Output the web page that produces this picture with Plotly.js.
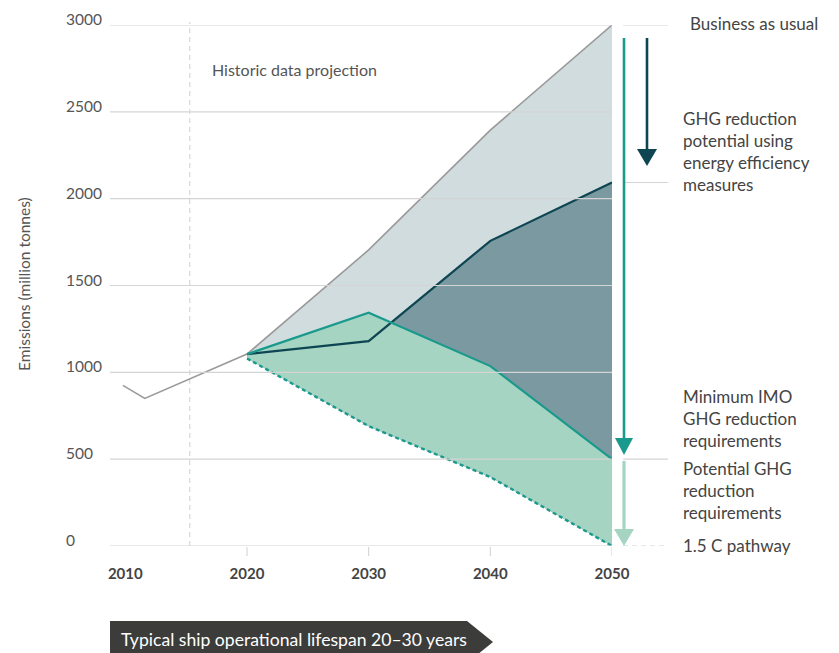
<!DOCTYPE html>
<html>
<head>
<meta charset="utf-8">
<script src="https://cdn.plot.ly/plotly-3.0.1.min.js"></script>
<style>html,body{margin:0;padding:0;background:#fff;}#chart{width:839px;height:653px;}</style>
</head>
<body>
<div id="chart"></div>
<script>
// ---- data ----
const histYears = [2009.8, 2011.6, 2020];
const histValues = [925, 850, 1105];
const years = [2020, 2030, 2040, 2050];
const businessAsUsual = [1105, 1705, 2395, 3000];
const energyEfficiency = [1105, 1180, 1757, 2093];
const minimumIMO = [1105, 1343, 1036, 500];
const pathway15 = [1080, 690, 397, 0];
const xTickVals = [2010, 2020, 2030, 2040, 2050];
const xTickText = ['2010', '2020', '2030', '2040', '2050'];
const yTickVals = [0, 500, 1000, 1500, 2000, 2500, 3000];
const yTickText = ['0', '500', '1000', '1500', '2000', '2500', '3000'];
const historicCutoff = 2015.3;

// ---- geometry helpers (pixel -> paper) ----
const L = 110, R = 612, T = 25, B = 546;
const px = v => (v - L) / (R - L);
const py = v => (B - v) / (B - T);

const FONT = 'Lato, "Open Sans", sans-serif';
const colGrayLine = '#9a9a9a';
const colDark = '#0e4553';
const colTeal = '#1a9a8c';
const colFillGray = '#d1dcdf';
const colFillDark = '#7b99a0';
const colFillGreen = '#a6d4c2';

const rev = a => a.slice().reverse();
function polygon(top, color) {
  return {
    x: years.concat(rev(years)),
    y: top.concat(rev(pathway15)),
    type: 'scatter', mode: 'lines', fill: 'toself', fillcolor: color,
    line: {width: 0, color: color}, hoverinfo: 'skip', showlegend: false
  };
}

const traces = [
  polygon(businessAsUsual, colFillGray),
  polygon(energyEfficiency, colFillDark),
  polygon(minimumIMO, colFillGreen),
  {x: histYears.concat(years.slice(1)), y: histValues.concat(businessAsUsual.slice(1)),
   type: 'scatter', mode: 'lines', line: {color: colGrayLine, width: 1.6}, showlegend: false, cliponaxis: false},
  {x: years, y: energyEfficiency, type: 'scatter', mode: 'lines',
   line: {color: colDark, width: 2.2}, showlegend: false, cliponaxis: false},
  {x: years, y: minimumIMO, type: 'scatter', mode: 'lines',
   line: {color: colTeal, width: 2.2}, showlegend: false, cliponaxis: false},
  {x: years, y: pathway15, type: 'scatter', mode: 'lines',
   line: {color: colTeal, width: 2.4, dash: '4px,3px'}, showlegend: false, cliponaxis: false}
];

const shapes = [];
// historic cutoff dashed line
shapes.push({type: 'line', xref: 'x', yref: 'paper', x0: historicCutoff, x1: historicCutoff,
  y0: 0, y1: py(22), line: {color: '#cfcfcf', width: 1, dash: '5px,4px'}, layer: 'below'});
// gridlines above fills
yTickVals.forEach(v => {
  shapes.push({type: 'line', xref: 'paper', yref: 'y', x0: 0, x1: 1, y0: v, y1: v,
    line: {color: '#d4d4d4', width: 1.2}, layer: 'above'});
});
// tick marks on projection years
years.forEach(v => {
  shapes.push({type: 'line', xref: 'x', yref: 'paper', x0: v, x1: v, y0: py(547), y1: py(556),
    line: {color: '#d0d0d0', width: 1}});
});
// right-hand label connector segments
[3000, energyEfficiency[3], minimumIMO[3]].forEach(v => {
  shapes.push({type: 'line', xref: 'paper', yref: 'y', x0: px(623), x1: px(668), y0: v, y1: v,
    line: {color: '#d4d4d4', width: 1.2}});
});
shapes.push({type: 'line', xref: 'paper', yref: 'y', x0: px(623), x1: px(668), y0: 0, y1: 0,
  line: {color: '#cfcfcf', width: 1.2, dash: '5px,4px'}});
// arrows
function arrow(x, yTop, yTip, color, w, headW, headH) {
  shapes.push({type: 'line', xref: 'paper', yref: 'paper', x0: px(x), x1: px(x),
    y0: py(yTop), y1: py(yTip - headH + 1), line: {color: color, width: w}});
  shapes.push({type: 'path', xref: 'paper', yref: 'paper',
    path: `M ${px(x - headW / 2)} ${py(yTip - headH)} L ${px(x + headW / 2)} ${py(yTip - headH)} L ${px(x)} ${py(yTip)} Z`,
    fillcolor: color, line: {width: 0}});
}
arrow(624, 38, 455, colTeal, 2.6, 18, 17);
arrow(647, 38, 166, colDark, 2.6, 20, 17);
arrow(624, 461, 546, colFillGreen, 3.2, 20, 17);
// bottom banner
shapes.push({type: 'path', xref: 'paper', yref: 'paper',
  path: `M ${px(110)} ${py(621)} L ${px(467)} ${py(621)} L ${px(493)} ${py(642)} L ${px(467)} ${py(663)} L ${px(110)} ${py(663)} Z`,
  fillcolor: '#3c3c3b', line: {width: 0}});

const annotations = [];
yTickVals.forEach((v, i) => {
  annotations.push({xref: 'paper', yref: 'y', x: px(64), y: v, yshift: 6, xanchor: 'left', yanchor: 'middle',
    text: yTickText[i], showarrow: false, font: {family: FONT, size: 15.5, color: '#555'}});
});
annotations.push({xref: 'paper', yref: 'paper', x: px(24), y: py(284), textangle: -90, xanchor: 'center', yanchor: 'middle',
  text: 'Emissions (million tonnes)', showarrow: false, font: {family: FONT, size: 15.5, color: '#555'}});
annotations.push({xref: 'paper', yref: 'paper', x: px(210), y: py(70), xanchor: 'left', yanchor: 'middle',
  text: 'Historic data projection', showarrow: false, font: {family: FONT, size: 16, color: '#555'}});
const rightFont = {family: FONT, size: 17, color: '#444'};
annotations.push({xref: 'paper', yref: 'paper', x: px(688), y: py(24), xanchor: 'left', yanchor: 'middle',
  text: 'Business as usual', showarrow: false, font: rightFont});
annotations.push({xref: 'paper', yref: 'paper', x: px(681), y: py(151), xanchor: 'left', yanchor: 'middle', align: 'left',
  text: 'GHG reduction<br>potential using<br>energy efficiency<br>measures', showarrow: false, font: rightFont});
annotations.push({xref: 'paper', yref: 'paper', x: px(681), y: py(418.5), xanchor: 'left', yanchor: 'middle', align: 'left',
  text: 'Minimum IMO<br>GHG reduction<br>requirements', showarrow: false, font: rightFont});
annotations.push({xref: 'paper', yref: 'paper', x: px(681), y: py(490), xanchor: 'left', yanchor: 'middle', align: 'left',
  text: 'Potential GHG<br>reduction<br>requirements', showarrow: false, font: rightFont});
annotations.push({xref: 'paper', yref: 'paper', x: px(681), y: py(545), xanchor: 'left', yanchor: 'middle',
  text: '1.5 C pathway', showarrow: false, font: rightFont});
annotations.push({xref: 'paper', yref: 'paper', x: px(119), y: py(639), xanchor: 'left', yanchor: 'middle',
  text: 'Typical ship operational lifespan 20–30 years', showarrow: false,
  font: {family: FONT, size: 17.6, color: '#ffffff'}});

const layout = {
  width: 839, height: 653,
  margin: {l: L, r: 839 - R, t: T, b: 653 - B, pad: 0},
  paper_bgcolor: '#ffffff', plot_bgcolor: '#ffffff',
  showlegend: false,
  xaxis: {range: [2008.74, 2050], tickvals: xTickVals, ticktext: xTickText,
    showgrid: false, zeroline: false, showline: false,
    ticks: 'outside', ticklen: 9, tickcolor: 'rgba(0,0,0,0)', tickwidth: 1,
    ticklabelstandoff: 5,
    tickfont: {family: FONT, size: 15, color: '#444', weight: 'bold'}},
  yaxis: {range: [0, 3000], showgrid: false, zeroline: false, showline: false,
    showticklabels: false, ticks: ''},
  shapes: shapes,
  annotations: annotations
};

Plotly.newPlot('chart', traces, layout, {displayModeBar: false, staticPlot: true});
</script>
</body>
</html>
